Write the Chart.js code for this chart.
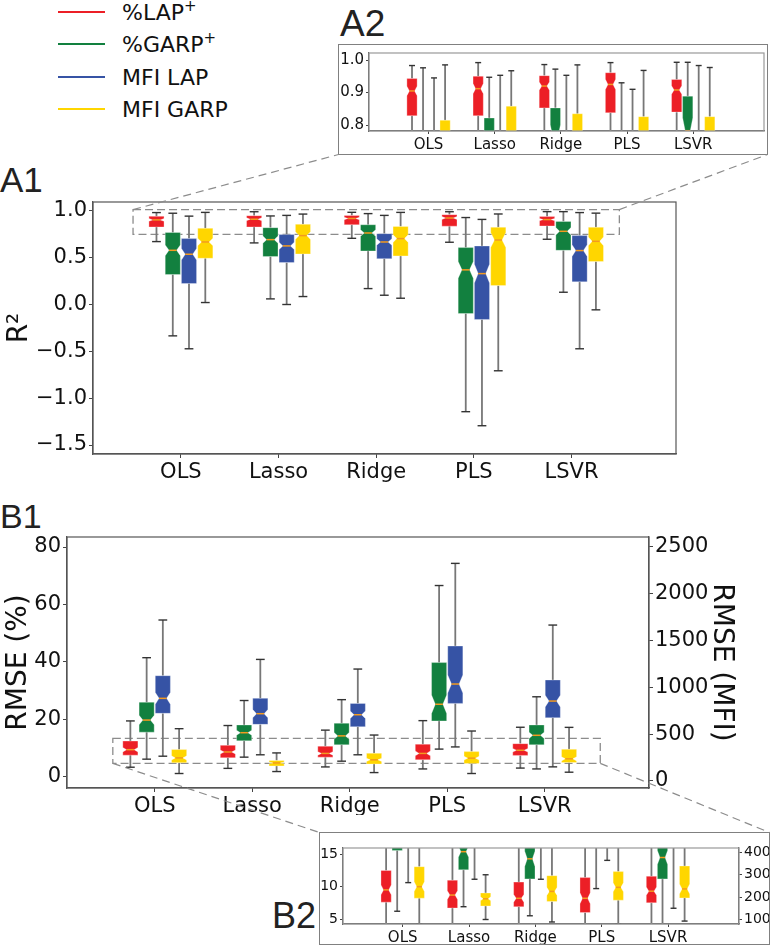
<!DOCTYPE html>
<html>
<head>
<meta charset="utf-8">
<script src="https://cdn.jsdelivr.net/npm/chart.js@4.4.1/dist/chart.umd.min.js"></script>
<style>
  body { margin: 0; background: #fff; width: 771px; height: 945px; position: relative; overflow: hidden; font-family: 'DejaVu Sans', sans-serif; }
  canvas, .frame, .lbl, .leg, .legline { position: absolute; }
  .lbl { font-family: 'Liberation Sans', Arial, sans-serif; line-height: 1; color: #222; white-space: nowrap; }
  .frame { border: 1px solid #808080; box-sizing: border-box; }
  .leg { left: 122px; font-size: 22px; line-height: 22px; white-space: nowrap; color: #111; }
  .leg span { font-size: 15px; position: relative; top: -9px; }
  .legline { left: 58px; width: 47px; height: 2px; }
  #overlay { left: 0; top: 0; pointer-events: none; z-index: 5; }
</style>
</head>
<body>

<div class="legline" style="top:11px;background:#ec1f26"></div>
<div class="leg" style="top:2px">%LAP<span>+</span></div>
<div class="legline" style="top:43px;background:#12803f"></div>
<div class="leg" style="top:34px">%GARP<span>+</span></div>
<div class="legline" style="top:76px;background:#3653a5"></div>
<div class="leg" style="top:67px">MFI LAP</div>
<div class="legline" style="top:108px;background:#ffd600"></div>
<div class="leg" style="top:99px">MFI GARP</div>

<div class="lbl" style="left:0;top:162px;font-size:35px">A1</div>
<div class="lbl" style="left:340px;top:5px;font-size:37px">A2</div>
<div class="lbl" style="left:0;top:499px;font-size:34px">B1</div>
<div class="lbl" style="left:272px;top:898px;font-size:36px">B2</div>

<div class="frame" style="left:338px;top:44px;width:430px;height:111px"></div>
<div class="frame" style="left:319px;top:832px;width:451px;height:113px"></div>

<canvas id="a1" width="700" height="300" style="left:0;top:190px"></canvas>
<canvas id="a2" width="428" height="109" style="left:339px;top:45px"></canvas>
<canvas id="b1" width="771" height="310" style="left:0;top:505px"></canvas>
<canvas id="b2" width="449" height="111" style="left:320px;top:833px"></canvas>
<canvas id="overlay" width="771" height="945"></canvas>

<script>
const methods = ["OLS", "Lasso", "Ridge", "PLS", "LSVR"];
const seriesNames = ["%LAP+", "%GARP+", "MFI LAP", "MFI GARP"];

// each row: [low whisker, Q1, median, Q3, high whisker], one row per method
const r2PctLap = [[0.673, 0.829, 0.905, 0.943, 0.983], [0.659, 0.829, 0.912, 0.950, 0.992], [0.708, 0.853, 0.920, 0.952, 0.986], [0.666, 0.838, 0.925, 0.961, 0.992], [0.698, 0.840, 0.908, 0.940, 0.993]];
const r2PctGarp = [[-0.334, 0.321, 0.580, 0.770, 0.976], [0.061, 0.513, 0.694, 0.822, 0.947], [0.171, 0.573, 0.765, 0.853, 0.972], [-1.144, -0.095, 0.371, 0.609, 0.930], [0.132, 0.580, 0.783, 0.889, 0.993]];
const r2MfiLap = [[-0.472, 0.225, 0.538, 0.705, 0.945], [0.001, 0.449, 0.627, 0.748, 0.953], [0.100, 0.491, 0.669, 0.758, 0.953], [-1.294, -0.159, 0.331, 0.626, 0.910], [-0.472, 0.243, 0.577, 0.737, 0.983]];
const r2MfiGarp = [[0.022, 0.495, 0.669, 0.815, 0.985], [0.086, 0.541, 0.737, 0.858, 0.967], [0.068, 0.520, 0.705, 0.835, 0.985], [-0.707, 0.203, 0.690, 0.826, 0.968], [-0.056, 0.460, 0.676, 0.826, 0.977]];

// RMSE in % (left axis)
const rmsePctLap = [[3.4, 7.6, 9.5, 12.5, 19.5], [3.0, 6.7, 8.7, 11.0, 17.9], [3.5, 6.9, 8.2, 10.7, 16.3], [2.8, 6.0, 8.2, 11.4, 19.6], [3.1, 7.5, 9.3, 11.6, 17.3]];
const rmsePctGarp = [[6.2, 15.6, 19.8, 26.0, 41.5], [6.9, 12.6, 15.4, 18.1, 26.6], [5.5, 11.2, 14.3, 18.7, 26.9], [9.7, 19.5, 25.3, 39.8, 66.6], [2.8, 11.2, 14.5, 18.1, 27.9]];
// RMSE in MFI (right axis)
const rmseMfiLap = [[265, 723, 883, 1125, 1720], [280, 605, 719, 883, 1299], [280, 580, 708, 829, 1196], [364, 829, 1036, 1442, 2325], [151, 676, 854, 1079, 1666]];
const rmseMfiGarp = [[80, 196, 247, 336, 559], [101, 161, 193, 219, 300], [90, 181, 226, 296, 491], [80, 187, 244, 314, 534], [94, 197, 237, 339, 573]];

const offsets = [-0.25, -0.083, 0.083, 0.25];
const boxColors = ["#ec1f26", "#12803f", "#3653a5", "#ffd600"];

Chart.defaults.font.family = "'DejaVu Sans', sans-serif";
Chart.defaults.color = "#111";

function line(ctx, x0, y0, x1, y1) {
  ctx.beginPath(); ctx.moveTo(x0, y0); ctx.lineTo(x1, y1); ctx.stroke();
}

// notched box plots drawn from the stats through the chart scales
const boxPlugin = {
  id: "notchBoxes",
  beforeDatasetsDraw(chart, args, opts) {
    const z = opts.zoomRect;
    if (!z) return;
    const { ctx } = chart, xs = chart.scales.x, ys = chart.scales.y;
    const x0 = xs.getPixelForValue(z.x0), x1 = xs.getPixelForValue(z.x1);
    const y0 = ys.getPixelForValue(z.y0), y1 = ys.getPixelForValue(z.y1);
    ctx.save();
    ctx.setLineDash([8, 4]); ctx.strokeStyle = "#8c8c8c"; ctx.lineWidth = 1.3;
    ctx.strokeRect(x0, y1, x1 - x0, y0 - y1);
    ctx.restore();
  },
  afterDatasetsDraw(chart, args, opts) {
    const { ctx, chartArea: a } = chart;
    const xs = chart.scales.x;
    const half = (xs.getPixelForValue(0.155) - xs.getPixelForValue(0)) / 2;
    ctx.save();
    ctx.beginPath(); ctx.rect(a.left, a.top, a.width, a.height); ctx.clip();
    chart.data.datasets.forEach((ds, k) => {
      const ys = chart.scales[ds.yAxisID];
      const py = v => ys.getPixelForValue(v);
      ds.stats.forEach((s, i) => {
        const [lo, q1, med, q3, hi] = s;
        const cx = xs.getPixelForValue(i + offsets[k]);
        const nh = 1.57 * (q3 - q1) / Math.sqrt(opts.notchN);
        ctx.strokeStyle = "#777"; ctx.lineWidth = 1.8;
        line(ctx, cx, py(q1), cx, py(lo));
        line(ctx, cx, py(q3), cx, py(hi));
        const cw = half * 0.58;
        ctx.strokeStyle = "#333"; ctx.lineWidth = 1.4;
        line(ctx, cx - cw, py(lo), cx + cw, py(lo));
        line(ctx, cx - cw, py(hi), cx + cw, py(hi));
        const L = cx - half, R = cx + half, nL = cx - half / 2, nR = cx + half / 2;
        ctx.beginPath();
        ctx.moveTo(L, py(q1)); ctx.lineTo(R, py(q1));
        ctx.lineTo(R, py(med - nh)); ctx.lineTo(nR, py(med)); ctx.lineTo(R, py(med + nh));
        ctx.lineTo(R, py(q3)); ctx.lineTo(L, py(q3));
        ctx.lineTo(L, py(med + nh)); ctx.lineTo(nL, py(med)); ctx.lineTo(L, py(med - nh));
        ctx.closePath();
        ctx.fillStyle = ds.boxColor; ctx.fill();
        ctx.strokeStyle = "rgba(255,255,255,0.3)"; ctx.lineWidth = 1; ctx.stroke();
        ctx.strokeStyle = "#f39a1f"; ctx.lineWidth = 1.5;
        line(ctx, nL, py(med), nR, py(med));
      });
    });
    ctx.restore();
    ctx.save();
    ctx.strokeStyle = opts.frameColor; ctx.lineWidth = 1.2;
    ctx.strokeRect(a.left, a.top, a.width, a.height);
    ctx.restore();
  }
};

const fmtR2 = v => (v < 0 ? "\u2212" : "") + Math.abs(v).toFixed(1);
const fmtInt = v => String(Math.round(v));

function xAxis(size, h, tl) {
  return {
    type: "linear", min: -0.9, max: 5.07,
    afterBuildTicks: s => { s.ticks = methods.map((m, i) => ({ value: i })); },
    afterFit: s => { s.height = h; s.paddingLeft = 0; s.paddingRight = 0; },
    ticks: { callback: v => methods[v], autoSkip: false, maxRotation: 0, font: { size }, padding: 2 },
    grid: { drawOnChartArea: false, tickLength: tl, tickColor: "#444" },
    border: { color: "#555", width: 1.2 }
  };
}

function yAxis(pos, min, max, step, size, w, fmt, tl, title, titlePad) {
  return {
    type: "linear", position: pos, min, max,
    // ticks on multiples of the step inside the range
    afterBuildTicks: s => {
      const t = [];
      for (let v = Math.ceil(s.min / step - 1e-9) * step; v <= s.max + 1e-9; v += step) t.push({ value: +v.toFixed(6) });
      s.ticks = t;
    },
    afterFit: s => { s.width = w; s.paddingTop = 0; s.paddingBottom = 0; },
    ticks: { font: { size }, padding: 2, callback: fmt },
    grid: { drawOnChartArea: false, tickLength: tl, tickColor: "#444" },
    border: { color: "#555", width: 1.2 },
    title: title ? { display: true, text: title, font: { size: 28 }, padding: { top: titlePad, bottom: 0 } } : { display: false }
  };
}

function makeChart(id, sets, axes, scales, padding, opts) {
  return new Chart(document.getElementById(id), {
    type: "scatter",
    data: {
      datasets: sets.map((stats, k) => ({
        label: seriesNames[k],
        data: stats.map((s, i) => ({ x: i + offsets[k], y: s[2] })),
        stats, yAxisID: axes[k], pointRadius: 0, boxColor: boxColors[k]
      }))
    },
    options: {
      responsive: false, animation: false, events: [], devicePixelRatio: 1,
      layout: { padding },
      plugins: { legend: { display: false }, tooltip: { enabled: false }, notchBoxes: opts },
      scales
    },
    plugins: [boxPlugin]
  });
}

const r2Sets = [r2PctLap, r2PctGarp, r2MfiLap, r2MfiGarp];
const rmseSets = [rmsePctLap, rmsePctGarp, rmseMfiLap, rmseMfiGarp];

const chartA1 = makeChart("a1", r2Sets, ["y", "y", "y", "y"], {
  x: xAxis(21, 36, 4),
  y: yAxis("left", -1.596, 1.096, 0.5, 21, 93, fmtR2, 4, "R\u00b2", 3)
}, { top: 12, right: 24, left: 0, bottom: 0 }, { notchN: 150, frameColor: "#555", zoomRect: { x0: -0.49, x1: 4.49, y0: 0.75, y1: 1.015 } });

const chartA2 = makeChart("a2", r2Sets, ["y", "y", "y", "y"], {
  x: xAxis(15, 23, 3),
  y: yAxis("left", 0.782, 1.0215, 0.1, 15, 30, fmtR2, 3)
}, { top: 8, right: 3, left: 0, bottom: 0 }, { notchN: 150, frameColor: "#999" });

const chartB1 = makeChart("b1", rmseSets, ["y", "y", "y2", "y2"], {
  x: xAxis(21, 27, 4),
  y: yAxis("left", -3.83, 83.48, 20, 21, 67, fmtInt, 4, "RMSE (%)", 2),
  y2: yAxis("right", -74.8, 2606.8, 500, 21, 122, fmtInt, 4, "RMSE (MFI)", 33)
}, { top: 32, right: 0, left: 0, bottom: 0 }, { notchN: 100, frameColor: "#555", zoomRect: { x0: -0.43, x1: 4.57, y0: 4.75, y1: 13.4 } });

const chartB2 = makeChart("b2", rmseSets, ["y", "y", "y2", "y2"], {
  x: xAxis(15, 20, 3),
  y: yAxis("left", 4.23, 15.97, 5, 14, 23, fmtInt, 3),
  y2: yAxis("right", 81, 419, 100, 14, 30, fmtInt, 3)
}, { top: 15, right: 0, left: 0, bottom: 0 }, { notchN: 100, frameColor: "#999" });

// dashed connectors between the zoom rectangles and the insets
function pagePoint(chart, xv, yv) {
  const r = chart.canvas.getBoundingClientRect();
  return [r.left + chart.scales.x.getPixelForValue(xv), r.top + chart.scales.y.getPixelForValue(yv)];
}
const octx = document.getElementById("overlay").getContext("2d");
octx.setLineDash([8, 5]); octx.strokeStyle = "#8c8c8c"; octx.lineWidth = 1.2;
const zA = chartA1.options.plugins.notchBoxes.zoomRect;
const zB = chartB1.options.plugins.notchBoxes.zoomRect;
let p = pagePoint(chartA1, zA.x0, zA.y1); line(octx, p[0], p[1], 338.5, 154.5);
p = pagePoint(chartA1, zA.x1, zA.y1); line(octx, p[0], p[1], 767.5, 154.5);
p = pagePoint(chartB1, zB.x0, zB.y0); line(octx, p[0], p[1], 319.5, 832.5);
p = pagePoint(chartB1, zB.x1, zB.y0); line(octx, p[0], p[1], 769.5, 832.5);
</script>
</body>
</html>
